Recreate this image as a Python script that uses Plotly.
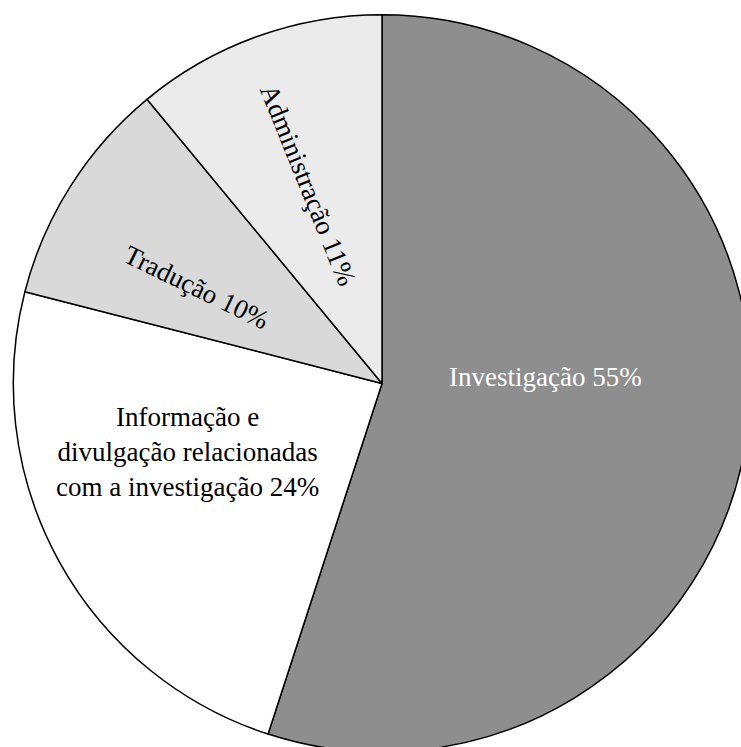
import plotly.graph_objects as go

categories = ["Investigação", "Informação e<br>divulgação relacionadas<br>com a investigação", "Tradução", "Administração"]
values = [55, 24, 10, 11]
colors = ["#8e8e8e", "#ffffff", "#d9d9d9", "#ebebeb"]
text_colors = ["#ffffff", "#000000", "#000000", "#000000"]

# label placement (pixel centres in the figure) and rotation
label_px = [(545, 377), (187, 452), (196, 287), (308, 185)]
label_angle = [0, 0, 26, 68]

W, H = 754, 754
cx0, cx1 = 13.3, 750.7
cy0, cy1 = 14.7, 752.1
FONT = "Liberation Serif, Times New Roman, serif"

dom = dict(x=[cx0 / W, cx1 / W], y=[1 - cy1 / H, 1 - cy0 / H])

fig = go.Figure()
fig.add_trace(go.Pie(
    labels=categories, values=values, sort=False, direction="clockwise", rotation=0,
    textinfo="none",
    marker=dict(colors=colors, line=dict(color="#000000", width=1.5)),
    domain=dom, showlegend=False, hoverinfo="skip",
))

for cat, val, (px, py), ang, tc in zip(categories, values, label_px, label_angle, text_colors):
    fig.add_annotation(
        x=px / W, y=1 - py / H, xref="paper", yref="paper",
        text=f"{cat} {val}%", showarrow=False, textangle=ang,
        xanchor="center", yanchor="middle", align="center",
        font=dict(family=FONT, size=27, color=tc),
    )

fig.update_layout(
    width=W, height=H, margin=dict(l=0, r=0, t=0, b=0),
    paper_bgcolor="white", plot_bgcolor="white",
)
fig.write_html(
    "out.html",
    post_script="document.body.style.margin='0';document.body.style.overflow='hidden';document.documentElement.style.overflow='hidden';",
)
